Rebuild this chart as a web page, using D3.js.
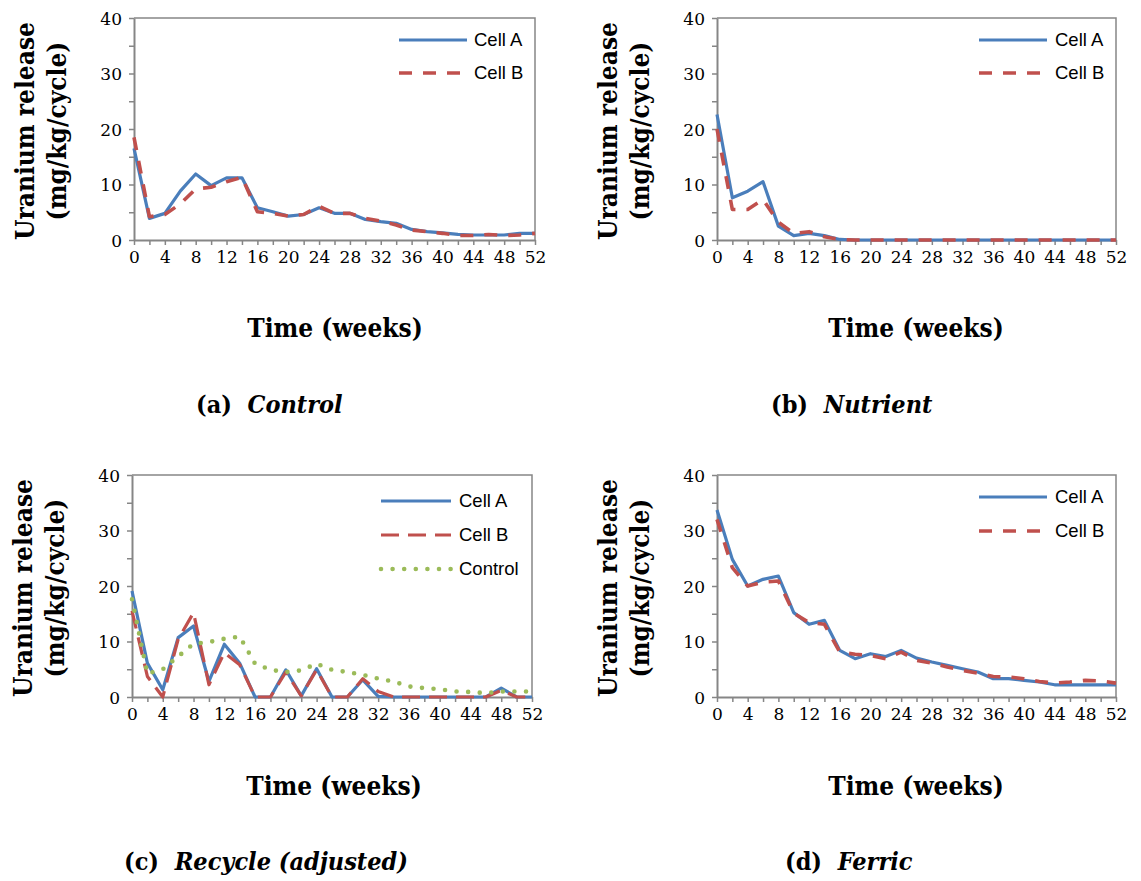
<!DOCTYPE html>
<html><head><meta charset="utf-8">
<script src="https://cdn.jsdelivr.net/npm/d3@7/dist/d3.min.js"></script>
<style>
body{margin:0;background:#fff}
svg{display:block}
.tick text{font-family:"DejaVu Serif",serif;font-size:17px;fill:#000}
</style>
</head><body>
<svg id="chart" width="1141" height="881"></svg>
<script>
// ---------- DATA ----------
const weeks = [0,2,4,6,8,10,12,14,16,18,20,22,24,26,28,30,32,34,36,38,40,42,44,46,48,50,52];
const xTickValues = [0,2,4,6,8,10,12,14,16,18,20,22,24,26,28,30,32,34,36,38,40,42,44,46,48,50,52];
const yTickValues = [0,5,10,15,20,25,30,35,40];

const controlCellA = [16.5,3.9,4.8,8.8,11.9,9.8,11.2,11.2,5.8,5.1,4.3,4.6,5.8,4.8,4.8,3.7,3.3,3.0,1.9,1.5,1.3,1.0,0.9,0.9,0.9,1.2,1.2];
const controlCellB = [18.5,4.2,4.6,6.5,9.2,9.5,10.5,11.3,5.1,4.8,4.3,4.6,6.1,4.8,4.8,3.9,3.4,2.7,1.8,1.5,1.2,0.8,0.8,1.0,0.8,0.9,1.2];

const nutrientCellA = [22.6,7.6,8.8,10.5,2.5,0.8,1.2,0.8,0.1,0,0,0,0,0,0,0,0,0,0,0,0,0,0,0,0,0,0];
const nutrientCellB = [20.0,5.5,5.5,7.3,3.2,1.2,1.5,0.6,0.1,0,0,0,0,0,0,0,0,0,0,0,0,0,0,0,0,0,0];

const recycleCellA = [19.1,6.1,1.3,10.7,12.8,2.8,9.5,6.1,0,0,4.9,0.2,5.1,0,0,3.1,0.1,0,0,0,0,0,0,0,1.6,0,0];
const recycleCellB = [15.5,3.7,0,10.4,15.2,2.2,8.0,5.8,0,0,4.5,0.2,4.9,0,0,3.3,1.0,0,0,0,0,0,0,0,1.2,0,0];
const recycleControl = [17.6,4.2,5.0,7.3,9.6,9.9,10.5,10.9,6.0,4.9,4.5,4.8,6.0,4.9,4.5,4.0,3.3,2.8,1.9,1.6,1.4,1.0,0.9,0.7,1.0,1.0,1.0];

const ferricCellA = [33.7,24.8,20.0,21.2,21.8,15.2,13.1,13.8,8.4,6.9,7.8,7.3,8.4,7.0,6.3,5.7,5.1,4.5,3.3,3.3,3.0,2.7,2.2,2.2,2.2,2.2,2.2];
const ferricCellB = [32.0,23.3,20.0,20.7,20.9,15.1,13.4,13.1,8.1,7.7,7.5,6.9,8.1,6.6,6.1,5.4,4.8,4.3,3.7,3.6,3.3,2.8,2.5,2.7,3.0,2.9,2.5];

const seriesNames = ["Cell A","Cell B","Control"];
const panelLabels = ["(a)","(b)","(c)","(d)"];
const panelNames = ["Control","Nutrient","Recycle (adjusted)","Ferric"];
const yTitleLines = ["Uranium release","(mg/kg/cycle)"];
const xTitle = "Time (weeks)";

// ---------- STYLE / LAYOUT ----------
const BLUE = "#4a7ebb", RED = "#c0504d", GREEN = "#9bbb59", AXIS = "#868686";
const styleA = {color:BLUE, width:3.2, dash:null, cap:"butt"};
const styleB = {color:RED, width:3.6, dash:"13,11", cap:"butt"};
const styleBlong = {color:RED, width:3.2, dash:"18,9", cap:"butt"};
const styleC = {color:GREEN, width:4.6, dash:"0,11.6", cap:"round"};

const panels = [
  {x0:134, x1:535, y0:240, y1:18, series:[[controlCellA,styleA],[controlCellB,styleB]],
   leg:{x1:399,x2:467,tx:474,ys:[40,73]}, tx:335, ty:337, cx:196, cy:413},
  {x0:717, x1:1116, y0:240, y1:18, series:[[nutrientCellA,styleA],[nutrientCellB,styleB]],
   leg:{x1:979,x2:1047,tx:1055,ys:[40,73]}, tx:916, ty:337, cx:771, cy:413},
  {x0:132, x1:532, y0:697, y1:475, series:[[recycleCellA,styleA],[recycleCellB,styleBlong],[recycleControl,styleC]],
   leg:{x1:381,x2:451,tx:459,ys:[501,535,569]}, tx:334, ty:795, cx:124, cy:870},
  {x0:717, x1:1116, y0:697, y1:475, series:[[ferricCellA,styleA],[ferricCellB,styleB]],
   leg:{x1:979,x2:1047,tx:1055,ys:[497,531]}, tx:916, ty:795, cx:785, cy:870}
];

const svg = d3.select("#chart");
const serifBold = '"DejaVu Serif Condensed","DejaVu Serif",serif';

panels.forEach((p, pi) => {
  const g = svg.append("g");
  const x = d3.scaleLinear().domain([0,52]).range([p.x0, p.x1]);
  const y = d3.scaleLinear().domain([0,40]).range([p.y0, p.y1]);

  // plot frame (top & right)
  g.append("path")
    .attr("d", `M${x(0)},${y(40)}H${x(52)}V${y(0)}`)
    .attr("fill","none").attr("stroke",AXIS).attr("stroke-width",1.5);

  // axes
  const xa = g.append("g").attr("transform",`translate(0,${y(0)})`)
    .call(d3.axisBottom(x).tickValues(xTickValues).tickSize(5).tickSizeOuter(0)
      .tickFormat(d => d % 4 === 0 ? d : ""));
  xa.selectAll(".tick text").attr("dy","0").attr("y",23);
  const ya = g.append("g").attr("transform",`translate(${x(0)},0)`)
    .call(d3.axisLeft(y).tickValues(yTickValues).tickSize(5).tickSizeOuter(0)
      .tickFormat(d => d % 10 === 0 ? d : ""));
  ya.selectAll(".tick text").attr("x",-12).attr("dy","0.36em");
  [xa, ya].forEach(a => {
    a.select(".domain").attr("stroke",AXIS).attr("stroke-width",2);
    a.selectAll(".tick line").attr("stroke",AXIS).attr("stroke-width",1.5);
  });

  // lines
  const line = d3.line().x((d,i) => x(weeks[i])).y(d => y(d));
  p.series.forEach(([data, st]) => {
    g.append("path").datum(data)
      .attr("d", line)
      .attr("fill","none")
      .attr("stroke", st.color)
      .attr("stroke-width", st.width)
      .attr("stroke-linejoin","round")
      .attr("stroke-linecap", st.cap)
      .attr("stroke-dasharray", st.dash);
  });

  // legend
  p.series.forEach(([data, st], si) => {
    const ly = p.leg.ys[si];
    g.append("line").attr("x1",p.leg.x1).attr("x2",p.leg.x2).attr("y1",ly).attr("y2",ly)
      .attr("stroke",st.color).attr("stroke-width",st.width)
      .attr("stroke-linecap",st.cap).attr("stroke-dasharray",st.dash);
    g.append("text").attr("x",p.leg.tx).attr("y",ly).attr("dy","0.35em")
      .attr("font-family",'"Liberation Sans Narrow","Liberation Sans",sans-serif')
      .attr("font-size",18.5).attr("fill","#000")
      .text(seriesNames[si]);
  });

  // y title
  const cyMid = (p.y0 + p.y1)/2 + 2;
  [[yTitleLines[0], p.x0 - 100],[yTitleLines[1], p.x0 - 68]].forEach(([t, bx]) => {
    g.append("text")
      .attr("transform",`translate(${bx},${cyMid}) rotate(-90)`)
      .attr("text-anchor","middle")
      .attr("font-family",serifBold).attr("font-weight","bold")
      .attr("font-size",26).attr("fill","#000")
      .text(t);
  });

  // x title
  g.append("text").attr("x",p.tx).attr("y",p.ty).attr("text-anchor","middle")
    .attr("font-family",serifBold).attr("font-weight","bold")
    .attr("font-size",26).attr("fill","#000").text(xTitle);

  // caption
  const cap = g.append("text").attr("x",p.cx).attr("y",p.cy)
    .attr("font-family",serifBold).attr("font-weight","bold")
    .attr("font-size",25).attr("fill","#000");
  cap.append("tspan").text(panelLabels[pi] + "\u00a0\u00a0");
  cap.append("tspan").attr("font-style","italic").text(panelNames[pi]);
});
</script>
</body></html>
